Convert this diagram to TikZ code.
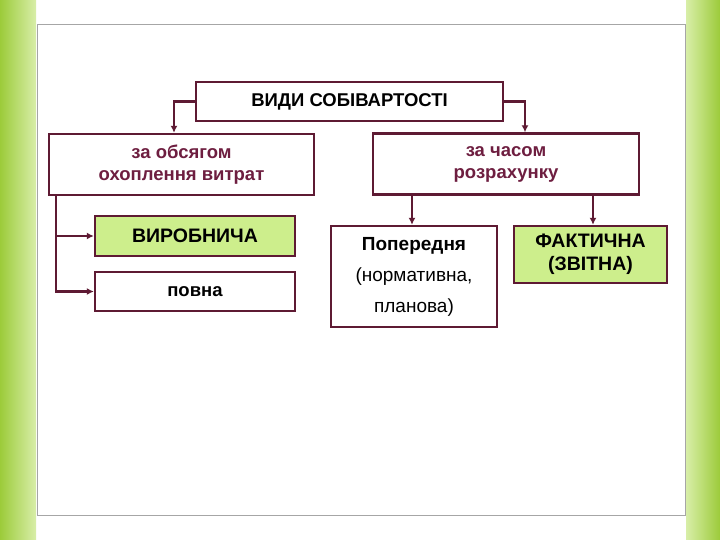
\documentclass[tikz,border=0pt]{standalone}
\usepackage{fontspec}
\setmainfont{Liberation Sans}
\usetikzlibrary{arrows.meta}
\begin{document}
\begin{tikzpicture}[x=1pt,y=-1pt,
  box/.style={draw=bord,line width=2.4pt,fill=white,inner sep=0pt,align=center},
  gbox/.style={box,fill=lgreen},
  conn/.style={draw=bord,line width=2.4pt,-{Latex[length=7pt,width=7pt]}},
  font=\fontsize{18.5}{22}\selectfont]
\definecolor{bord}{HTML}{5E1A33}
\definecolor{mar}{HTML}{6E1E40}
\definecolor{lgreen}{HTML}{CDEE8C}
\definecolor{g1}{HTML}{9CCB3A}
\definecolor{g2}{HTML}{D8EEA8}
\useasboundingbox (0,0) rectangle (720,540);
\fill[white] (0,0) rectangle (720,540);
\shade[left color=g1,right color=g2] (0,0) rectangle (36,540);
\shade[left color=g2,right color=g1] (686,0) rectangle (720,540);
\draw[gray!70,line width=1pt,fill=white] (37,25) rectangle (685,515);
\node[box,minimum width=307,minimum height=39] (top) at (349.5,101.5) {\textbf{ВИДИ СОБІВАРТОСТІ}};
\node[box,minimum width=265,minimum height=61,text=mar] (obs) at (181.5,164.5) {\textbf{за обсягом}\\\textbf{охоплення витрат}};
\node[box,minimum width=266,minimum height=61,text=mar] (chas) at (506,164) {\textbf{за часом}\\\textbf{розрахунку}};
\node[gbox,minimum width=200,minimum height=40,font=\fontsize{19.5}{22}\selectfont] (vyr) at (195,236) {\textbf{ВИРОБНИЧА}};
\node[box,minimum width=200,minimum height=39] (povna) at (195,291.5) {\textbf{повна}};
\node[box,minimum width=166,minimum height=101,font=\fontsize{19}{31}\selectfont] (pop) at (414,276.5) {\textbf{Попередня}\\(нормативна,\\планова)};
\node[gbox,minimum width=153,minimum height=57,font=\fontsize{19.5}{23}\selectfont] (fakt) at (590.5,254.5) {\textbf{ФАКТИЧНА}\\\textbf{(ЗВІТНА)}};
\coordinate (o1) at (56,195);
\draw[conn] (top.west) -| (obs.north -| 174,0);
\draw[conn] (top.east) -| (chas.north -| 525,0);
\draw[conn] (o1) |- (vyr.west);
\draw[conn] (o1) |- (povna.west);
\draw[conn] (chas.south -| 412,0) -- (pop.north -| 412,0);
\draw[conn] (chas.south -| 593,0) -- (fakt.north -| 593,0);
\end{tikzpicture}
\end{document}
